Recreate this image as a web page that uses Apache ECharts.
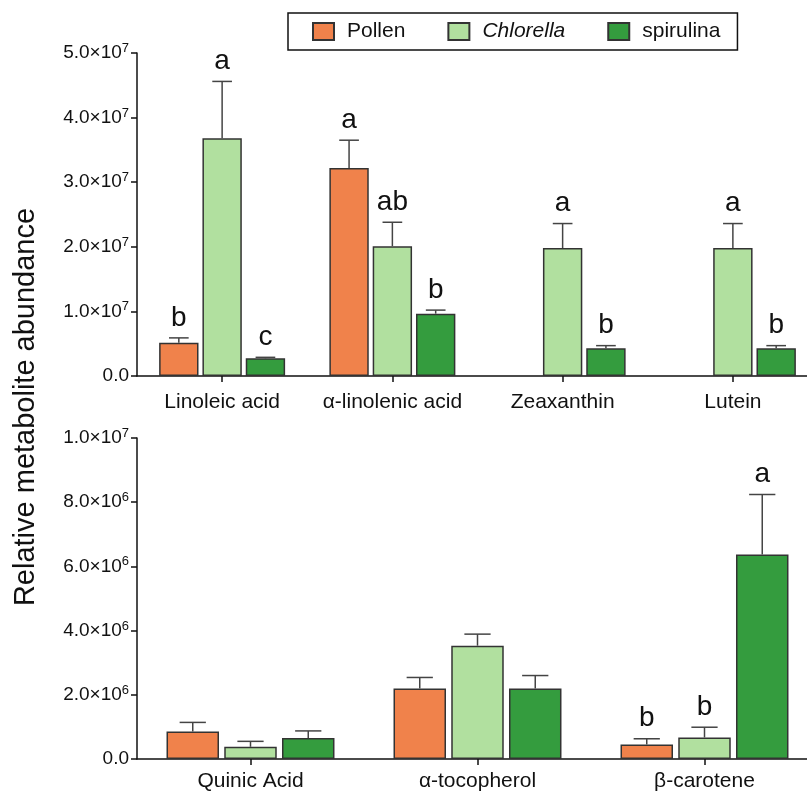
<!DOCTYPE html>
<html>
<head>
<meta charset="utf-8">
<script src="https://cdn.jsdelivr.net/npm/echarts@6/dist/echarts.min.js"></script>
<style>html,body{margin:0;padding:0;background:#fff}#c{width:807px;height:792px}</style>
</head>
<body>
<div id="c"></div>
<script>
// ---- data ----
const seriesNames = ['Pollen', 'Chlorella', 'spirulina'];

const topCategories = ['Linoleic acid', 'α-linolenic acid', 'Zeaxanthin', 'Lutein'];
const topPollen = [5.15e6, 32.2e6, null, null];
const topPollenErr = [0.75e6, 4.3e6, null, null];
const topChlorella = [36.8e6, 20.1e6, 19.8e6, 19.8e6];
const topChlorellaErr = [8.8e6, 3.7e6, 3.8e6, 3.8e6];
const topSpirulina = [2.74e6, 9.65e6, 4.3e6, 4.3e6];
const topSpirulinaErr = [0.15e6, 0.55e6, 0.4e6, 0.4e6];
const topPollenSig = ['b', 'a', '', ''];
const topChlorellaSig = ['a', 'ab', 'a', 'a'];
const topSpirulinaSig = ['c', 'b', 'b', 'b'];
const topTicks = { min: 0, max: 5e7, interval: 1e7 };

const bottomCategories = ['Quinic Acid', 'α-tocopherol', 'β-carotene'];
const bottomPollen = [0.86e6, 2.2e6, 0.45e6];
const bottomPollenErr = [0.28e6, 0.34e6, 0.18e6];
const bottomChlorella = [0.38e6, 3.53e6, 0.67e6];
const bottomChlorellaErr = [0.17e6, 0.36e6, 0.32e6];
const bottomSpirulina = [0.655e6, 2.2e6, 6.37e6];
const bottomSpirulinaErr = [0.22e6, 0.4e6, 1.87e6];
const bottomPollenSig = ['', '', 'b'];
const bottomChlorellaSig = ['', '', 'b'];
const bottomSpirulinaSig = ['', '', 'a'];
const bottomTicks = { min: 0, max: 1e7, interval: 2e6 };

const yTitle = 'Relative metabolite abundance';

// ---- styles ----
const FONT = '"Liberation Sans", Arial, Helvetica, sans-serif';
const colors = ['#F0824B', '#B1E09F', '#349C3E'];
const INK = '#111';
const BAR_GAP = '10%';
const CAT_GAP = '26%';

function sciLabel(v) {
  if (v === 0) return '{m|0.0}';
  const e = Math.floor(Math.log10(v) + 1e-9);
  const m = v / Math.pow(10, e);
  return '{m|' + m.toFixed(1) + '×10}{s|' + e + '}';
}

function barSeries(name, idx, grid, values) {
  return {
    type: 'bar', name: name, xAxisIndex: grid, yAxisIndex: grid,
    data: values, barGap: BAR_GAP, barCategoryGap: CAT_GAP,
    itemStyle: { color: colors[idx], borderColor: '#333', borderWidth: 1.5 },
    emphasis: { disabled: true }, z: 2
  };
}

function errSeries(idx, grid, values, errs, sig) {
  const data = [];
  values.forEach((v, i) => { if (v != null) data.push([i, v, v + errs[i]]); });
  return {
    type: 'custom', name: 'err' + grid + idx, xAxisIndex: grid, yAxisIndex: grid, z: 3,
    data: data, silent: true,
    renderItem: function (params, api) {
      const ci = api.value(0);
      const base = api.coord([ci, api.value(1)]);
      const top = api.coord([ci, api.value(2)]);
      const layout = api.barLayout({ barGap: BAR_GAP, barCategoryGap: CAT_GAP, count: 3 });
      const x = base[0] + layout[idx].offsetCenter;
      const half = layout[idx].width * 0.25;
      const st = { stroke: '#444', lineWidth: 1.5 };
      const children = [
        { type: 'line', shape: { x1: x, y1: base[1], x2: x, y2: top[1] }, style: st },
        { type: 'line', shape: { x1: x - half, y1: top[1], x2: x + half, y2: top[1] }, style: st }
      ];
      const letter = sig[ci];
      if (letter) {
        children.push({
          type: 'text', x: x, y: top[1] - 20,
          style: { text: letter, fill: INK, fontSize: 28, fontFamily: FONT, align: 'center', verticalAlign: 'middle' }
        });
      }
      return { type: 'group', children: children };
    }
  };
}

function yAxis(grid, t) {
  return {
    type: 'value', gridIndex: grid, min: t.min, max: t.max, interval: t.interval,
    axisLine: { show: true, lineStyle: { color: INK, width: 1.5 } },
    axisTick: { show: true, length: 6, lineStyle: { color: INK, width: 1.5 } },
    splitLine: { show: false },
    axisLabel: {
      formatter: sciLabel, margin: 8,
      rich: {
        m: { fontSize: 19, fontFamily: FONT, color: INK, lineHeight: 22 },
        s: { fontSize: 13, fontFamily: FONT, color: INK, lineHeight: 12, verticalAlign: 'top' }
      }
    }
  };
}

function xAxis(grid, cats, margin) {
  return {
    type: 'category', gridIndex: grid, data: cats,
    axisLine: { show: true, lineStyle: { color: INK, width: 1.5 } },
    axisTick: { show: true, alignWithLabel: true, length: 6, lineStyle: { color: INK, width: 1.5 } },
    axisLabel: { interval: 0, fontSize: 21, fontFamily: FONT, color: INK, margin: margin }
  };
}

const chart = echarts.init(document.getElementById('c'));
chart.setOption({
  animation: false,
  backgroundColor: '#fff',
  legend: {
    data: seriesNames,
    left: 288, top: 13,
    orient: 'horizontal',
    padding: [8, 17, 8, 24],
    borderColor: '#111', borderWidth: 1.5,
    itemWidth: 21, itemHeight: 17, itemGap: 42,
    icon: 'rect',
    formatter: function (n) { return n === 'Chlorella' ? '{i|' + n + '}' : '{n|' + n + '}'; },
    textStyle: {
      fontSize: 21, fontFamily: FONT, color: INK, padding: [0, 0, 0, 8],
      rich: {
        i: { fontSize: 21, fontFamily: FONT, color: INK, fontStyle: 'italic' },
        n: { fontSize: 21, fontFamily: FONT, color: INK }
      }
    },
    selectedMode: false
  },
  grid: [
    { left: 137, top: 53, width: 681, height: 323, outerBoundsMode: 'none', containLabel: false },
    { left: 137, top: 438, width: 681, height: 321, outerBoundsMode: 'none', containLabel: false }
  ],
  xAxis: [xAxis(0, topCategories, 16), xAxis(1, bottomCategories, 12)],
  yAxis: [yAxis(0, topTicks), yAxis(1, bottomTicks)],
  graphic: [{
    type: 'text', x: 26, y: 407, rotation: Math.PI / 2,
    style: { text: yTitle, fontSize: 29, fontFamily: FONT, fill: INK, align: 'center', verticalAlign: 'middle' }
  }],
  series: [
    barSeries(seriesNames[0], 0, 0, topPollen),
    barSeries(seriesNames[1], 1, 0, topChlorella),
    barSeries(seriesNames[2], 2, 0, topSpirulina),
    barSeries(seriesNames[0], 0, 1, bottomPollen),
    barSeries(seriesNames[1], 1, 1, bottomChlorella),
    barSeries(seriesNames[2], 2, 1, bottomSpirulina),
    errSeries(0, 0, topPollen, topPollenErr, topPollenSig),
    errSeries(1, 0, topChlorella, topChlorellaErr, topChlorellaSig),
    errSeries(2, 0, topSpirulina, topSpirulinaErr, topSpirulinaSig),
    errSeries(0, 1, bottomPollen, bottomPollenErr, bottomPollenSig),
    errSeries(1, 1, bottomChlorella, bottomChlorellaErr, bottomChlorellaSig),
    errSeries(2, 1, bottomSpirulina, bottomSpirulinaErr, bottomSpirulinaSig)
  ]
});
</script>
</body>
</html>
